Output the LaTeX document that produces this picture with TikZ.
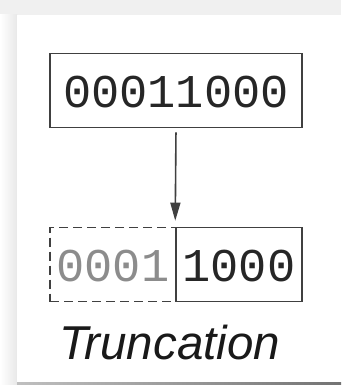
\documentclass[tikz,border=0pt]{standalone}
\usepackage{fontspec}
\newfontfamily\bitsfont{Liberation Mono}
\newfontfamily\capfont{Liberation Sans}
\usetikzlibrary{arrows.meta}
\begin{document}
\begin{tikzpicture}[x=1pt,y=-1pt,
    bits/.style={draw=black!75,line width=1.6pt,inner sep=0pt,
      minimum height=74pt,text height=34pt,text depth=0pt,text=black!85,
      font=\bitsfont\fontsize{47}{47}\selectfont},
    cut/.style={dash pattern=on 9pt off 5pt,text=black!45}]
  % card and its shadow
  \fill[black!6] (0,0) rectangle (341,385);
  \fill[left color=white,right color=black!9] (0,15) rectangle (17,385);
  \fill[white] (17,15) rectangle (341,382);
  \fill[left color=black!25,right color=black!55] (17,382) rectangle (341,384.5);
  \useasboundingbox (0,0) rectangle (341,385);
  \draw
    (176,90.5) node[bits,minimum width=252pt] (in){00011000}
    (113,264.5) node[bits,cut,minimum width=126pt] (lo){0001}
    (239,264.5) node[bits,minimum width=126pt] (hi){1000}
    (59,359) node[anchor=base west,inner sep=0pt,text=black!90,
      font=\capfont\itshape\fontsize{47.5}{47.5}\selectfont] (cap){Truncation};
  \begin{scope}[-{Triangle[length=18pt,width=10pt]},black!75,line width=1.6pt]
    \draw[shorten <=4pt,shorten >=6pt] (in.south) to (hi.north west);
  \end{scope}
\end{tikzpicture}
\end{document}
